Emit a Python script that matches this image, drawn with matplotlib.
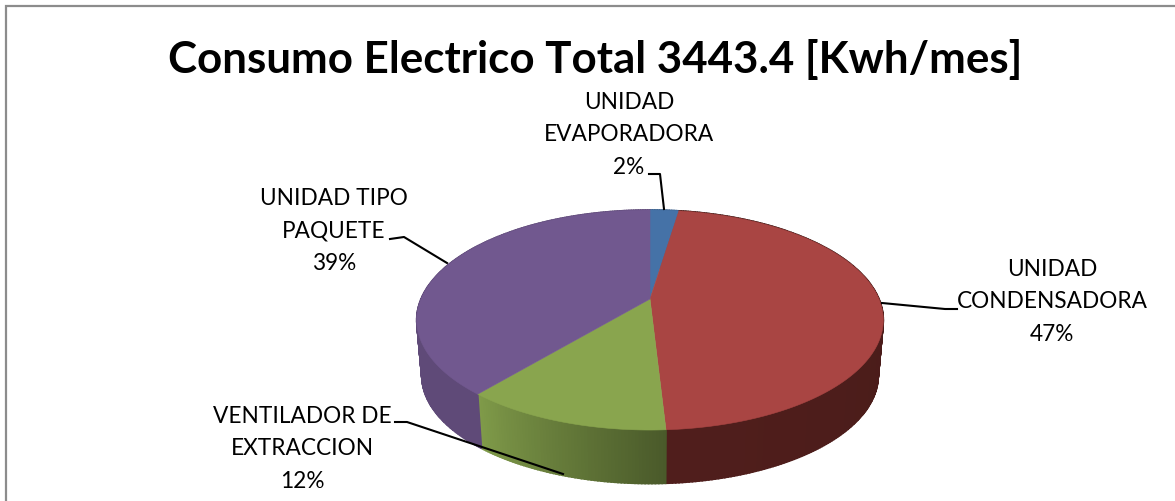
import numpy as np
import matplotlib
matplotlib.use('Agg')
import matplotlib.pyplot as plt
from matplotlib.colors import to_rgb

plt.rcParams['font.family'] = ['Lato', 'DejaVu Sans']

title = 'Consumo Electrico Total 3443.4 [Kwh/mes]'
categories = ['UNIDAD\nEVAPORADORA', 'UNIDAD\nCONDENSADORA', 'VENTILADOR DE\nEXTRACCION', 'UNIDAD TIPO\nPAQUETE']
shares = [2.4, 46.7, 12.0, 38.9]
percent_labels = ['2%', '47%', '12%', '39%']

top_colors = ['#4572a7', '#a94543', '#89a54e', '#71588f']
side_start = ['#3a5f8a', '#431a17', '#4a5a2a', '#5f4a78']
side_end = ['#3a5f8a', '#501e1c', '#7f9a49', '#5f4a78']

label_pos = [(629, 135), (1052, 302), (302, 449), (334, 231)]
leaders = [
    [(649, 175), (660, 175), (664, 210)],
    [(957, 310), (945, 310), (882, 304)],
    [(395, 423), (407, 423), (563, 475)],
    [(390, 240), (404, 238), (447, 264)],
]

# perspective of the pie, pixels
cx = 650
cy_top = 300
cy_bot = 356
a_top = 229
a_bot = 224
b_top = 106
b_bot = 104
k = 0.191


def project(theta, a, b, cy):
    u = np.sin(theta)
    v = np.cos(theta)
    return cx + a*u/(1 + k*v), cy - b*v/(1 + k*v)


fig = plt.figure(figsize=(11.75, 5.02), dpi=100)
ax = fig.add_axes([0, 0, 1, 1])
ax.set_xlim(0, 1175)
ax.set_ylim(502, 0)
ax.axis('off')

# chart border, only left and top are in the crop
ax.plot([6, 6, 1175], [502, 7, 7], color='#8c8c8c', lw=1.6, solid_joinstyle='miter')

edges = np.radians(np.cumsum([0] + shares)/np.sum(shares)*360)

# side wall first
for i in range(len(shares)):
    n = max(int((edges[i+1]-edges[i])/np.radians(0.7)), 2)
    th = np.linspace(edges[i], edges[i+1], n+1)
    c0 = np.array(to_rgb(side_start[i]))
    c1 = np.array(to_rgb(side_end[i]))
    for j in range(n):
        f = j/max(n-1, 1)
        col = c0 + (c1-c0)*f
        x1, y1 = project(th[j], a_top, b_top, cy_top)
        x2, y2 = project(th[j+1], a_top, b_top, cy_top)
        x3, y3 = project(th[j+1], a_bot, b_bot, cy_bot)
        x4, y4 = project(th[j], a_bot, b_bot, cy_bot)
        ax.fill([x1, x2, x3, x4], [y1, y2, y3, y4], facecolor=col, edgecolor=col, lw=1.2)

# top face
for i in range(len(shares)):
    th = np.linspace(edges[i], edges[i+1], 200)
    x, y = project(th, a_top, b_top, cy_top)
    ax.fill(np.r_[cx, x], np.r_[cy_top, y], color=top_colors[i], lw=0.4)

for line in leaders:
    xs, ys = zip(*line)
    ax.plot(xs, ys, color='black', lw=1.5)

for name, pct, pos in zip(categories, percent_labels, label_pos):
    ax.text(pos[0], pos[1], name + '\n' + pct, ha='center', va='center',
            fontsize=16.3, color='black', linespacing=1.66)

ax.text(595, 59, title, ha='center', va='center', fontsize=31.6, fontweight='bold', color='black')

fig.savefig('out.png', dpi=100)
